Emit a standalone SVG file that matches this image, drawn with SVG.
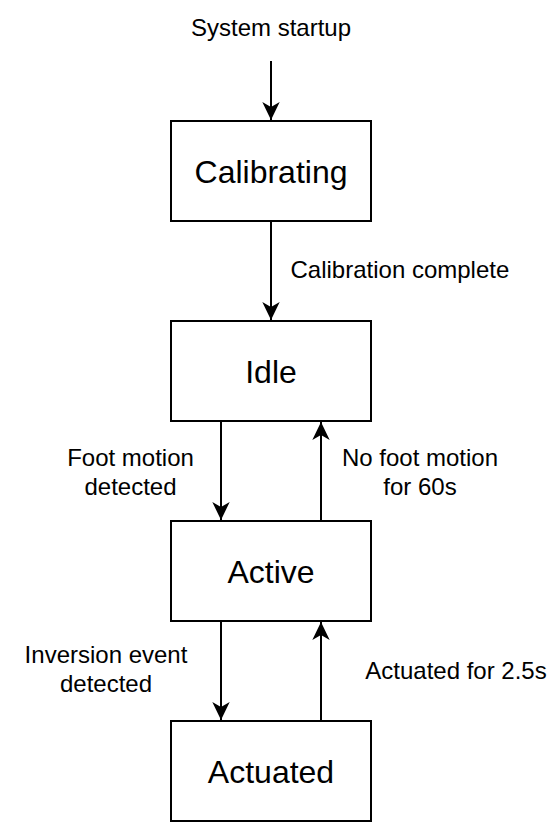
<svg xmlns="http://www.w3.org/2000/svg" width="560" height="822" viewBox="0 0 560 822">
  <style>
    .node rect { fill: #ffffff; stroke: #000000; stroke-width: 2; }
    .node text { font-family: "Liberation Sans", Arial, Helvetica, sans-serif; font-size: 32px; fill: #000000; text-anchor: middle; }
    .edge { stroke: #000000; stroke-width: 2; fill: none; }
    .lbl { font-family: "Liberation Sans", Arial, Helvetica, sans-serif; font-size: 24px; fill: #000000; }
    .mid { text-anchor: middle; }
  </style>
  <defs>
    <marker id="arrow" viewBox="-20 -10 22 20" markerUnits="userSpaceOnUse" markerWidth="22" markerHeight="20" refX="0" refY="0" orient="auto">
      <path d="M0,0 L-18,-8.7 L-13,0 L-18,8.7 Z" fill="#000000" stroke="none"/>
    </marker>
  </defs>
  <rect width="560" height="822" fill="#ffffff"/>

  <g id="connectors">
    <line class="edge" x1="271" y1="61" x2="271" y2="120" marker-end="url(#arrow)"/>
    <line class="edge" x1="271" y1="222" x2="271" y2="320" marker-end="url(#arrow)"/>
    <line class="edge" x1="221" y1="422" x2="221" y2="520" marker-end="url(#arrow)"/>
    <line class="edge" x1="321" y1="520" x2="321" y2="422" marker-end="url(#arrow)"/>
    <line class="edge" x1="221" y1="622" x2="221" y2="720" marker-end="url(#arrow)"/>
    <line class="edge" x1="321" y1="720" x2="321" y2="622" marker-end="url(#arrow)"/>
  </g>

  <g id="edge-labels">
    <text class="lbl mid" x="271" y="36">System startup</text>
    <text class="lbl" x="290.5" y="277.5">Calibration complete</text>
    <text class="lbl mid" x="130.5" y="466">Foot motion</text>
    <text class="lbl mid" x="130.5" y="495">detected</text>
    <text class="lbl mid" x="420" y="466">No foot motion</text>
    <text class="lbl mid" x="420" y="495">for 60s</text>
    <text class="lbl mid" x="106" y="662.5">Inversion event</text>
    <text class="lbl mid" x="106" y="691.5">detected</text>
    <text class="lbl mid" x="456" y="678.5">Actuated for 2.5s</text>
  </g>

  <g id="calibrating" class="node">
    <rect x="171" y="121" width="200" height="100"/>
    <text x="271" y="183">Calibrating</text>
  </g>
  <g id="idle" class="node">
    <rect x="171" y="321" width="200" height="100"/>
    <text x="271" y="383">Idle</text>
  </g>
  <g id="active" class="node">
    <rect x="171" y="521" width="200" height="100"/>
    <text x="271" y="583">Active</text>
  </g>
  <g id="actuated" class="node">
    <rect x="171" y="721" width="200" height="100"/>
    <text x="271" y="783">Actuated</text>
  </g>
</svg>
